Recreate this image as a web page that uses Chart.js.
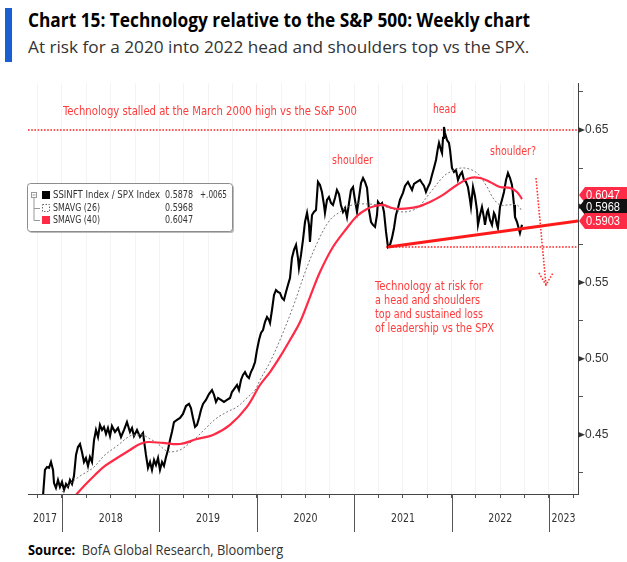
<!DOCTYPE html>
<html>
<head>
<meta charset="utf-8">
<script src="https://cdn.jsdelivr.net/npm/chart.js@4.4.1/dist/chart.umd.min.js"></script>
<style>
  html, body { margin: 0; padding: 0; background: #fff; }
  body { width: 627px; height: 562px; position: relative; overflow: hidden; font-family: "Open Sans", "Noto Sans", sans-serif; }
  #bar { position: absolute; left: 5px; top: 8px; width: 7px; height: 54px; background: #1a5fd0; }
  .fit { position: absolute; white-space: nowrap; transform-origin: 0 0; line-height: 1; }
  #title { left: 28px; top: 11px; font-weight: 700; font-size: 19px; color: #000; }
  #subtitle { left: 28px; top: 38px; font-size: 17px; color: #333; }
  #source { left: 28px; top: 543px; font-size: 14px; color: #333; }
  canvas { position: absolute; left: 0; top: 0; }
</style>
</head>
<body>
<div id="bar"></div>
<div id="title" class="fit" data-w="502">Chart 15: Technology relative to the S&amp;P 500: Weekly chart</div>
<div id="subtitle" class="fit" data-w="501">At risk for a 2020 into 2022 head and shoulders top vs the SPX.</div>
<div id="source" class="fit" data-w="255"><b style="color:#000">Source:</b>&nbsp; BofA Global Research, Bloomberg</div>
<canvas id="chart" width="627" height="562"></canvas>
<script>
// weekly SSINFT / SPX ratio, x in decimal years
const ratioYears = [
  2017.774, 2017.805, 2017.825, 2017.846, 2017.867, 2017.887, 2017.908, 2017.918, 2017.938, 2017.959, 2017.979,
  2018.000, 2018.021, 2018.041, 2018.062, 2018.082, 2018.103, 2018.123, 2018.144, 2018.164, 2018.185, 2018.205,
  2018.226, 2018.246, 2018.267, 2018.287, 2018.308, 2018.329, 2018.349, 2018.370, 2018.390, 2018.411, 2018.431,
  2018.452, 2018.472, 2018.493, 2018.513, 2018.544, 2018.575, 2018.606, 2018.637, 2018.667, 2018.698, 2018.719,
  2018.739, 2018.770, 2018.801, 2018.832, 2018.862, 2018.883, 2018.904, 2018.924, 2018.945, 2018.965, 2018.986,
  2019.006, 2019.027, 2019.047, 2019.068, 2019.088, 2019.109, 2019.129, 2019.150, 2019.181, 2019.212, 2019.242,
  2019.273, 2019.304, 2019.324, 2019.345, 2019.366, 2019.386, 2019.407, 2019.427, 2019.448, 2019.478, 2019.509,
  2019.540, 2019.561, 2019.581, 2019.602, 2019.632, 2019.663, 2019.694, 2019.725, 2019.745, 2019.776, 2019.797,
  2019.817, 2019.838, 2019.858, 2019.879, 2019.899, 2019.920, 2019.940, 2019.961, 2019.982, 2020.002, 2020.023,
  2020.043, 2020.064, 2020.084, 2020.105, 2020.125, 2020.136, 2020.156, 2020.177, 2020.197, 2020.218, 2020.238,
  2020.259, 2020.279, 2020.300, 2020.320, 2020.341, 2020.361, 2020.382, 2020.403, 2020.423, 2020.433, 2020.454,
  2020.474, 2020.495, 2020.516, 2020.536, 2020.546, 2020.567, 2020.587, 2020.608, 2020.628, 2020.649, 2020.669,
  2020.690, 2020.700, 2020.721, 2020.741, 2020.762, 2020.782, 2020.803, 2020.823, 2020.844, 2020.864, 2020.885,
  2020.906, 2020.926, 2020.947, 2020.967, 2020.988, 2021.008, 2021.029, 2021.049, 2021.070, 2021.091, 2021.111,
  2021.132, 2021.152, 2021.173, 2021.193, 2021.214, 2021.234, 2021.244, 2021.265, 2021.286, 2021.306, 2021.327,
  2021.347, 2021.368, 2021.388, 2021.409, 2021.429, 2021.450, 2021.470, 2021.501, 2021.522, 2021.552, 2021.573,
  2021.594, 2021.614, 2021.645, 2021.676, 2021.696, 2021.717, 2021.737, 2021.758, 2021.778, 2021.799, 2021.819,
  2021.840, 2021.860, 2021.871, 2021.891, 2021.902, 2021.912, 2021.922, 2021.932, 2021.953, 2021.973, 2021.984,
  2022.004, 2022.025, 2022.045, 2022.066, 2022.086, 2022.107, 2022.127, 2022.148, 2022.168, 2022.189, 2022.199,
  2022.220, 2022.240, 2022.261, 2022.271, 2022.292, 2022.312, 2022.333, 2022.343, 2022.364, 2022.374, 2022.394,
  2022.415, 2022.435, 2022.446, 2022.466, 2022.476, 2022.497, 2022.517, 2022.538, 2022.559, 2022.579, 2022.600,
  2022.620, 2022.641, 2022.651, 2022.672, 2022.702, 2022.723
];
const ratioValues = [
  0.3974, 0.4099, 0.4270, 0.4289, 0.4283, 0.4322, 0.4270, 0.4184, 0.4152, 0.4204, 0.4158,
  0.4191, 0.4138, 0.4178, 0.4158, 0.4204, 0.4178, 0.4230, 0.4368, 0.4420, 0.4440, 0.4388,
  0.4322, 0.4348, 0.4296, 0.4355, 0.4322, 0.4466, 0.4532, 0.4486, 0.4565, 0.4532, 0.4552,
  0.4506, 0.4545, 0.4493, 0.4558, 0.4519, 0.4545, 0.4486, 0.4532, 0.4584, 0.4519, 0.4545,
  0.4493, 0.4532, 0.4486, 0.4512, 0.4368, 0.4283, 0.4322, 0.4270, 0.4335, 0.4302, 0.4348,
  0.4270, 0.4322, 0.4296, 0.4355, 0.4401, 0.4466, 0.4519, 0.4584, 0.4598, 0.4611, 0.4637,
  0.4689, 0.4703, 0.4676, 0.4611, 0.4552, 0.4565, 0.4611, 0.4663, 0.4703, 0.4729, 0.4768,
  0.4794, 0.4762, 0.4716, 0.4742, 0.4729, 0.4716, 0.4729, 0.4742, 0.4781, 0.4808, 0.4827,
  0.4794, 0.4860, 0.4893, 0.4912, 0.4886, 0.4873, 0.4912, 0.4939, 0.4978, 0.5057, 0.5122,
  0.5168, 0.5188, 0.5240, 0.5273, 0.5254, 0.5234, 0.5319, 0.5418, 0.5450, 0.5437, 0.5431,
  0.5398, 0.5385, 0.5437, 0.5483, 0.5529, 0.5660, 0.5713, 0.5746, 0.5660, 0.5595, 0.5680,
  0.5778, 0.5896, 0.5956, 0.5877, 0.5765, 0.5942, 0.5962, 0.5975, 0.6159, 0.6139, 0.6093,
  0.6008, 0.5956, 0.6041, 0.6060, 0.6021, 0.6008, 0.6054, 0.6106, 0.6080, 0.6008, 0.5962,
  0.5988, 0.5929, 0.6021, 0.6106, 0.6126, 0.6041, 0.5962, 0.6054, 0.6152, 0.6185, 0.6159,
  0.6120, 0.5975, 0.5896, 0.5877, 0.5864, 0.5942, 0.6028, 0.6008, 0.6021, 0.5962, 0.5831,
  0.5732, 0.5746, 0.5792, 0.5857, 0.5942, 0.5988, 0.6041, 0.6087, 0.6133, 0.6159, 0.6133,
  0.6106, 0.6146, 0.6159, 0.6172, 0.6152, 0.6133, 0.6093, 0.6126, 0.6152, 0.6205, 0.6251,
  0.6303, 0.6382, 0.6415, 0.6369, 0.6349, 0.6448, 0.6520, 0.6480, 0.6434, 0.6415, 0.6369,
  0.6251, 0.6224, 0.6238, 0.6172, 0.6205, 0.6224, 0.6172, 0.6159, 0.6126, 0.6041, 0.5995,
  0.6126, 0.6067, 0.5975, 0.5877, 0.5942, 0.5995, 0.5923, 0.5877, 0.5962, 0.5975, 0.5910,
  0.5877, 0.5956, 0.5942, 0.5877, 0.5857, 0.5995, 0.6041, 0.6093, 0.6172, 0.6218, 0.6185,
  0.6139, 0.6008, 0.5929, 0.5896, 0.5824, 0.5878
];

// 26 week moving average
const sma26Years = [
  2018.000, 2018.082, 2018.185, 2018.318, 2018.441, 2018.565, 2018.698, 2018.770, 2018.832, 2018.904, 2018.975,
  2019.057, 2019.109, 2019.212, 2019.314, 2019.386, 2019.489, 2019.591, 2019.694, 2019.797, 2019.899, 2019.982,
  2020.033, 2020.136, 2020.238, 2020.372, 2020.516, 2020.649, 2020.752, 2020.854, 2020.978, 2021.111, 2021.234,
  2021.368, 2021.501, 2021.645, 2021.778, 2021.912, 2021.984, 2022.117, 2022.261, 2022.364, 2022.425, 2022.497,
  2022.579, 2022.672, 2022.723
];
const sma26Values = [
  0.4125, 0.4178, 0.4230, 0.4283, 0.4368, 0.4427, 0.4493, 0.4499, 0.4499, 0.4473, 0.4447,
  0.4401, 0.4388, 0.4401, 0.4447, 0.4486, 0.4552, 0.4611, 0.4650, 0.4683, 0.4742, 0.4794,
  0.4860, 0.4978, 0.5122, 0.5339, 0.5601, 0.5798, 0.5910, 0.5962, 0.6008, 0.6015, 0.6008,
  0.5988, 0.5962, 0.5988, 0.6087, 0.6192, 0.6224, 0.6251, 0.6218, 0.6126, 0.6054, 0.6008,
  0.6008, 0.6008, 0.5968
];

// 40 week moving average
const sma40Years = [
  2018.133, 2018.236, 2018.339, 2018.441, 2018.565, 2018.698, 2018.801, 2018.883, 2019.037, 2019.212, 2019.386,
  2019.550, 2019.725, 2019.899, 2020.033, 2020.136, 2020.238, 2020.341, 2020.444, 2020.546, 2020.649, 2020.782,
  2020.926, 2021.029, 2021.132, 2021.214, 2021.296, 2021.388, 2021.470, 2021.645, 2021.778, 2021.912, 2022.055,
  2022.189, 2022.292, 2022.394, 2022.497, 2022.600, 2022.672, 2022.723
];
const sma40Values = [
  0.4099, 0.4171, 0.4237, 0.4296, 0.4348, 0.4401, 0.4440, 0.4453, 0.4447, 0.4440, 0.4473,
  0.4499, 0.4565, 0.4683, 0.4827, 0.4912, 0.5011, 0.5122, 0.5240, 0.5404, 0.5568, 0.5732,
  0.5857, 0.5936, 0.5982, 0.6001, 0.6008, 0.5988, 0.5982, 0.5995, 0.6028, 0.6074, 0.6139,
  0.6185, 0.6185, 0.6159, 0.6126, 0.6120, 0.6093, 0.6047
];

// annotation levels and lines
const xRange = [2017.651, 2023.298];
const yRange = [0.4112, 0.6808];
const stallLevel = 0.65;
const necklineYears = [2021.327, 2023.298];
const necklineLevel = 0.5732;
const trendYears = [2021.347, 2023.298];
const trendValues = [0.5732, 0.5903];
const arrowYears = [2022.867, 2022.969];
const arrowValues = [0.6185, 0.5483];
const arrowHeadYears = [2022.897, 2022.969, 2023.041];
const arrowHeadValues = [0.5562, 0.5483, 0.5562];

const yearLabels = [2017, 2018, 2019, 2020, 2021, 2022, 2023];
const quarterTicks = [];
for (let q = 2017.75; q <= 2023.25; q += 0.25) quarterTicks.push(q);
const yTicks = [0.425, 0.45, 0.475, 0.5, 0.525, 0.55, 0.575, 0.6, 0.625, 0.65, 0.675];

const legendNames = ["SSINFT Index / SPX Index", "SMAVG (26)", "SMAVG (40)"];
const legendValues = ["0.5878", "0.5968", "0.6047"];
const legendChange = "+.0065";
const tagLabels = ["0.6047", "0.5968", "0.5903"];

const RED = "#ff2a45";
const NOTE_RED = "#ff3b3b";
const NARROW = '"Liberation Sans Narrow", "DejaVu Sans Condensed", "Liberation Sans", sans-serif';

const pts = (xs, ys) => xs.map((x, i) => ({ x: x, y: ys[i] }));

function fitText(ctx, text, x, y, w) {
  const m = ctx.measureText(text).width;
  ctx.save();
  ctx.translate(x, y);
  if (w) ctx.scale(w / m, 1);
  ctx.fillText(text, 0, 0);
  ctx.restore();
}

const decorations = {
  id: "decorations",
  afterDraw(chart) {
    const { ctx, chartArea: a, scales: { x, y } } = chart;
    ctx.save();
    ctx.textBaseline = "middle";
    ctx.textAlign = "left";

    // year separators + labels
    ctx.strokeStyle = "#555";
    ctx.lineWidth = 1;
    yearLabels.forEach(yr => {
      if (yr > xRange[0]) {
        const px = Math.round(x.getPixelForValue(yr)) + 0.5;
        ctx.beginPath();
        ctx.moveTo(px, a.bottom);
        ctx.lineTo(px, a.bottom + 38);
        ctx.stroke();
      }
    });
    ctx.fillStyle = "#333";
    ctx.font = "12px " + NARROW;
    yearLabels.forEach(yr => {
      const l = Math.max(a.left, x.getPixelForValue(yr));
      const r = Math.min(a.right, x.getPixelForValue(yr + 1));
      const w = 24;
      fitText(ctx, String(yr), (l + r) / 2 - w / 2, a.bottom + 25, w);
    });

    // major tick pointers on the price axis
    ctx.fillStyle = "#333";
    yTicks.forEach(v => {
      if (Math.abs(v * 20 - Math.round(v * 20)) < 1e-6) {
        const py = y.getPixelForValue(v);
        ctx.beginPath();
        ctx.moveTo(a.right, py - 3);
        ctx.lineTo(a.right + 7, py);
        ctx.lineTo(a.right, py + 3);
        ctx.closePath();
        ctx.fill();
      }
    });

    // text notes
    ctx.fillStyle = NOTE_RED;
    ctx.font = "12.5px " + NARROW;
    fitText(ctx, "Technology stalled at the March 2000 high vs the S&P 500", 63, 112, 294);
    fitText(ctx, "head", 433, 110, 23);
    fitText(ctx, "shoulder", 332, 161, 41);
    fitText(ctx, "shoulder?", 490, 152, 46);
    const lines = ["Technology at risk for", "a head and shoulders", "top and sustained loss", "of leadership vs the SPX"];
    const widths = [108, 105, 108, 119];
    lines.forEach((t, i) => fitText(ctx, t, 375, 287 + i * 14, widths[i]));

    // legend box
    ctx.fillStyle = "#bbb";
    ctx.beginPath();
    ctx.roundRect(29, 185, 205, 48, 3);
    ctx.fill();
    ctx.fillStyle = "#fff";
    ctx.strokeStyle = "#8c8c8c";
    ctx.beginPath();
    ctx.roundRect(27.5, 183.5, 205, 48, 3);
    ctx.fill();
    ctx.stroke();
    // tree glyph
    ctx.strokeStyle = "#999";
    ctx.strokeRect(31.5, 192.5, 5, 5);
    ctx.beginPath();
    ctx.moveTo(32.5, 195); ctx.lineTo(35.5, 195);
    ctx.moveTo(34, 198); ctx.lineTo(34, 220.5);
    ctx.moveTo(34, 208.5); ctx.lineTo(40, 208.5);
    ctx.moveTo(34, 220.5); ctx.lineTo(40, 220.5);
    ctx.stroke();
    const rows = [195, 208, 220];
    ctx.fillStyle = "#000";
    ctx.fillRect(42, rows[0] - 4, 8, 8);
    ctx.setLineDash([1.5, 1.5]);
    ctx.strokeStyle = "#666";
    ctx.strokeRect(42.5, rows[1] - 3.5, 7, 7);
    ctx.setLineDash([]);
    ctx.fillStyle = RED;
    ctx.fillRect(42, rows[2] - 4, 8, 8);
    ctx.fillStyle = "#333";
    ctx.font = "10px \"DejaVu Sans\", sans-serif";
    const nameW = [107, 47, 47];
    legendNames.forEach((t, i) => {
      fitText(ctx, t, 53, rows[i], nameW[i]);
      fitText(ctx, legendValues[i], 165, rows[i], 28);
    });
    fitText(ctx, legendChange, 200, rows[0], 27);

    // right hand value tags, stacked so the lower ones overlap the upper ones
    const bottomY = y.getPixelForValue(trendValues[1]);
    const tags = [
      { cy: bottomY - 26, fill: RED, text: tagLabels[0] },
      { cy: bottomY - 14, fill: "#111", text: tagLabels[1] },
      { cy: bottomY, fill: RED, text: tagLabels[2] }
    ];
    ctx.font = "12px \"Liberation Sans\", sans-serif";
    tags.forEach(tg => {
      const h = 8;
      ctx.fillStyle = tg.fill;
      ctx.beginPath();
      ctx.moveTo(a.right + 1, tg.cy);
      ctx.lineTo(a.right + 7, tg.cy - h);
      ctx.lineTo(627, tg.cy - h);
      ctx.lineTo(627, tg.cy + h);
      ctx.lineTo(a.right + 7, tg.cy + h);
      ctx.closePath();
      ctx.fill();
      ctx.fillStyle = "#fff";
      fitText(ctx, tg.text, a.right + 8, tg.cy + 0.5, 34);
    });
    ctx.restore();
  }
};

new Chart(document.getElementById("chart"), {
  type: "line",
  data: {
    datasets: [
      {
        data: pts(trendYears, trendValues),
        borderColor: "#ff1a1a",
        borderWidth: 3.2,
        pointRadius: 0
      },
      {
        data: pts(sma40Years, sma40Values),
        borderColor: RED,
        borderWidth: 2.2,
        pointRadius: 0,
        tension: 0.35
      },
      {
        data: pts(sma26Years, sma26Values),
        borderColor: "#777",
        borderWidth: 1,
        borderDash: [2, 2],
        pointRadius: 0,
        tension: 0.35
      },
      {
        data: pts(ratioYears, ratioValues),
        borderColor: "#000",
        borderWidth: 2.1,
        pointRadius: 0,
        tension: 0
      },
      {
        data: pts(xRange, [stallLevel, stallLevel]),
        borderColor: "#ff2020",
        borderWidth: 1.6,
        borderDash: [1.6, 1.6],
        pointRadius: 0
      },
      {
        data: pts(necklineYears, [necklineLevel, necklineLevel]),
        borderColor: "#ff2020",
        borderWidth: 1.6,
        borderDash: [1.6, 1.6],
        pointRadius: 0
      },
      {
        data: pts(arrowYears, arrowValues),
        borderColor: "#ff3030",
        borderWidth: 1.6,
        borderDash: [1.6, 1.6],
        pointRadius: 0
      },
      {
        data: pts(arrowHeadYears, arrowHeadValues),
        borderColor: "#ff3030",
        borderWidth: 1.6,
        borderDash: [1.6, 1.6],
        pointRadius: 0
      }
    ]
  },
  options: {
    responsive: false,
    animation: false,
    devicePixelRatio: 1,
    layout: { padding: { left: 28, top: 83, right: 0, bottom: 0 } },
    plugins: { legend: { display: false }, tooltip: { enabled: false } },
    scales: {
      x: {
        type: "linear",
        min: xRange[0],
        max: xRange[1],
        afterBuildTicks: s => { s.ticks = quarterTicks.map(v => ({ value: v })); },
        afterFit: s => { s.height = 68; },
        ticks: { display: false },
        grid: { color: "rgba(0,0,0,0.045)", tickColor: "#555", tickLength: 4 },
        border: { color: "#444", width: 1 }
      },
      y: {
        position: "right",
        min: yRange[0],
        max: yRange[1],
        afterBuildTicks: s => { s.ticks = yTicks.map(v => ({ value: v })); },
        afterFit: s => { s.width = 49; },
        ticks: {
          padding: 2,
          color: "#333",
          font: { family: "Liberation Sans", size: 12 },
          callback: v => (Math.abs(v * 20 - Math.round(v * 20)) < 1e-6 ? v.toFixed(2) : "")
        },
        grid: { drawOnChartArea: false, tickColor: "#555", tickLength: 5 },
        border: { color: "#444", width: 1 }
      }
    }
  },
  plugins: [decorations]
});

document.querySelectorAll(".fit").forEach(el => {
  const w = +el.dataset.w;
  el.style.transform = "scaleX(" + (w / el.offsetWidth) + ")";
});
</script>
</body>
</html>
